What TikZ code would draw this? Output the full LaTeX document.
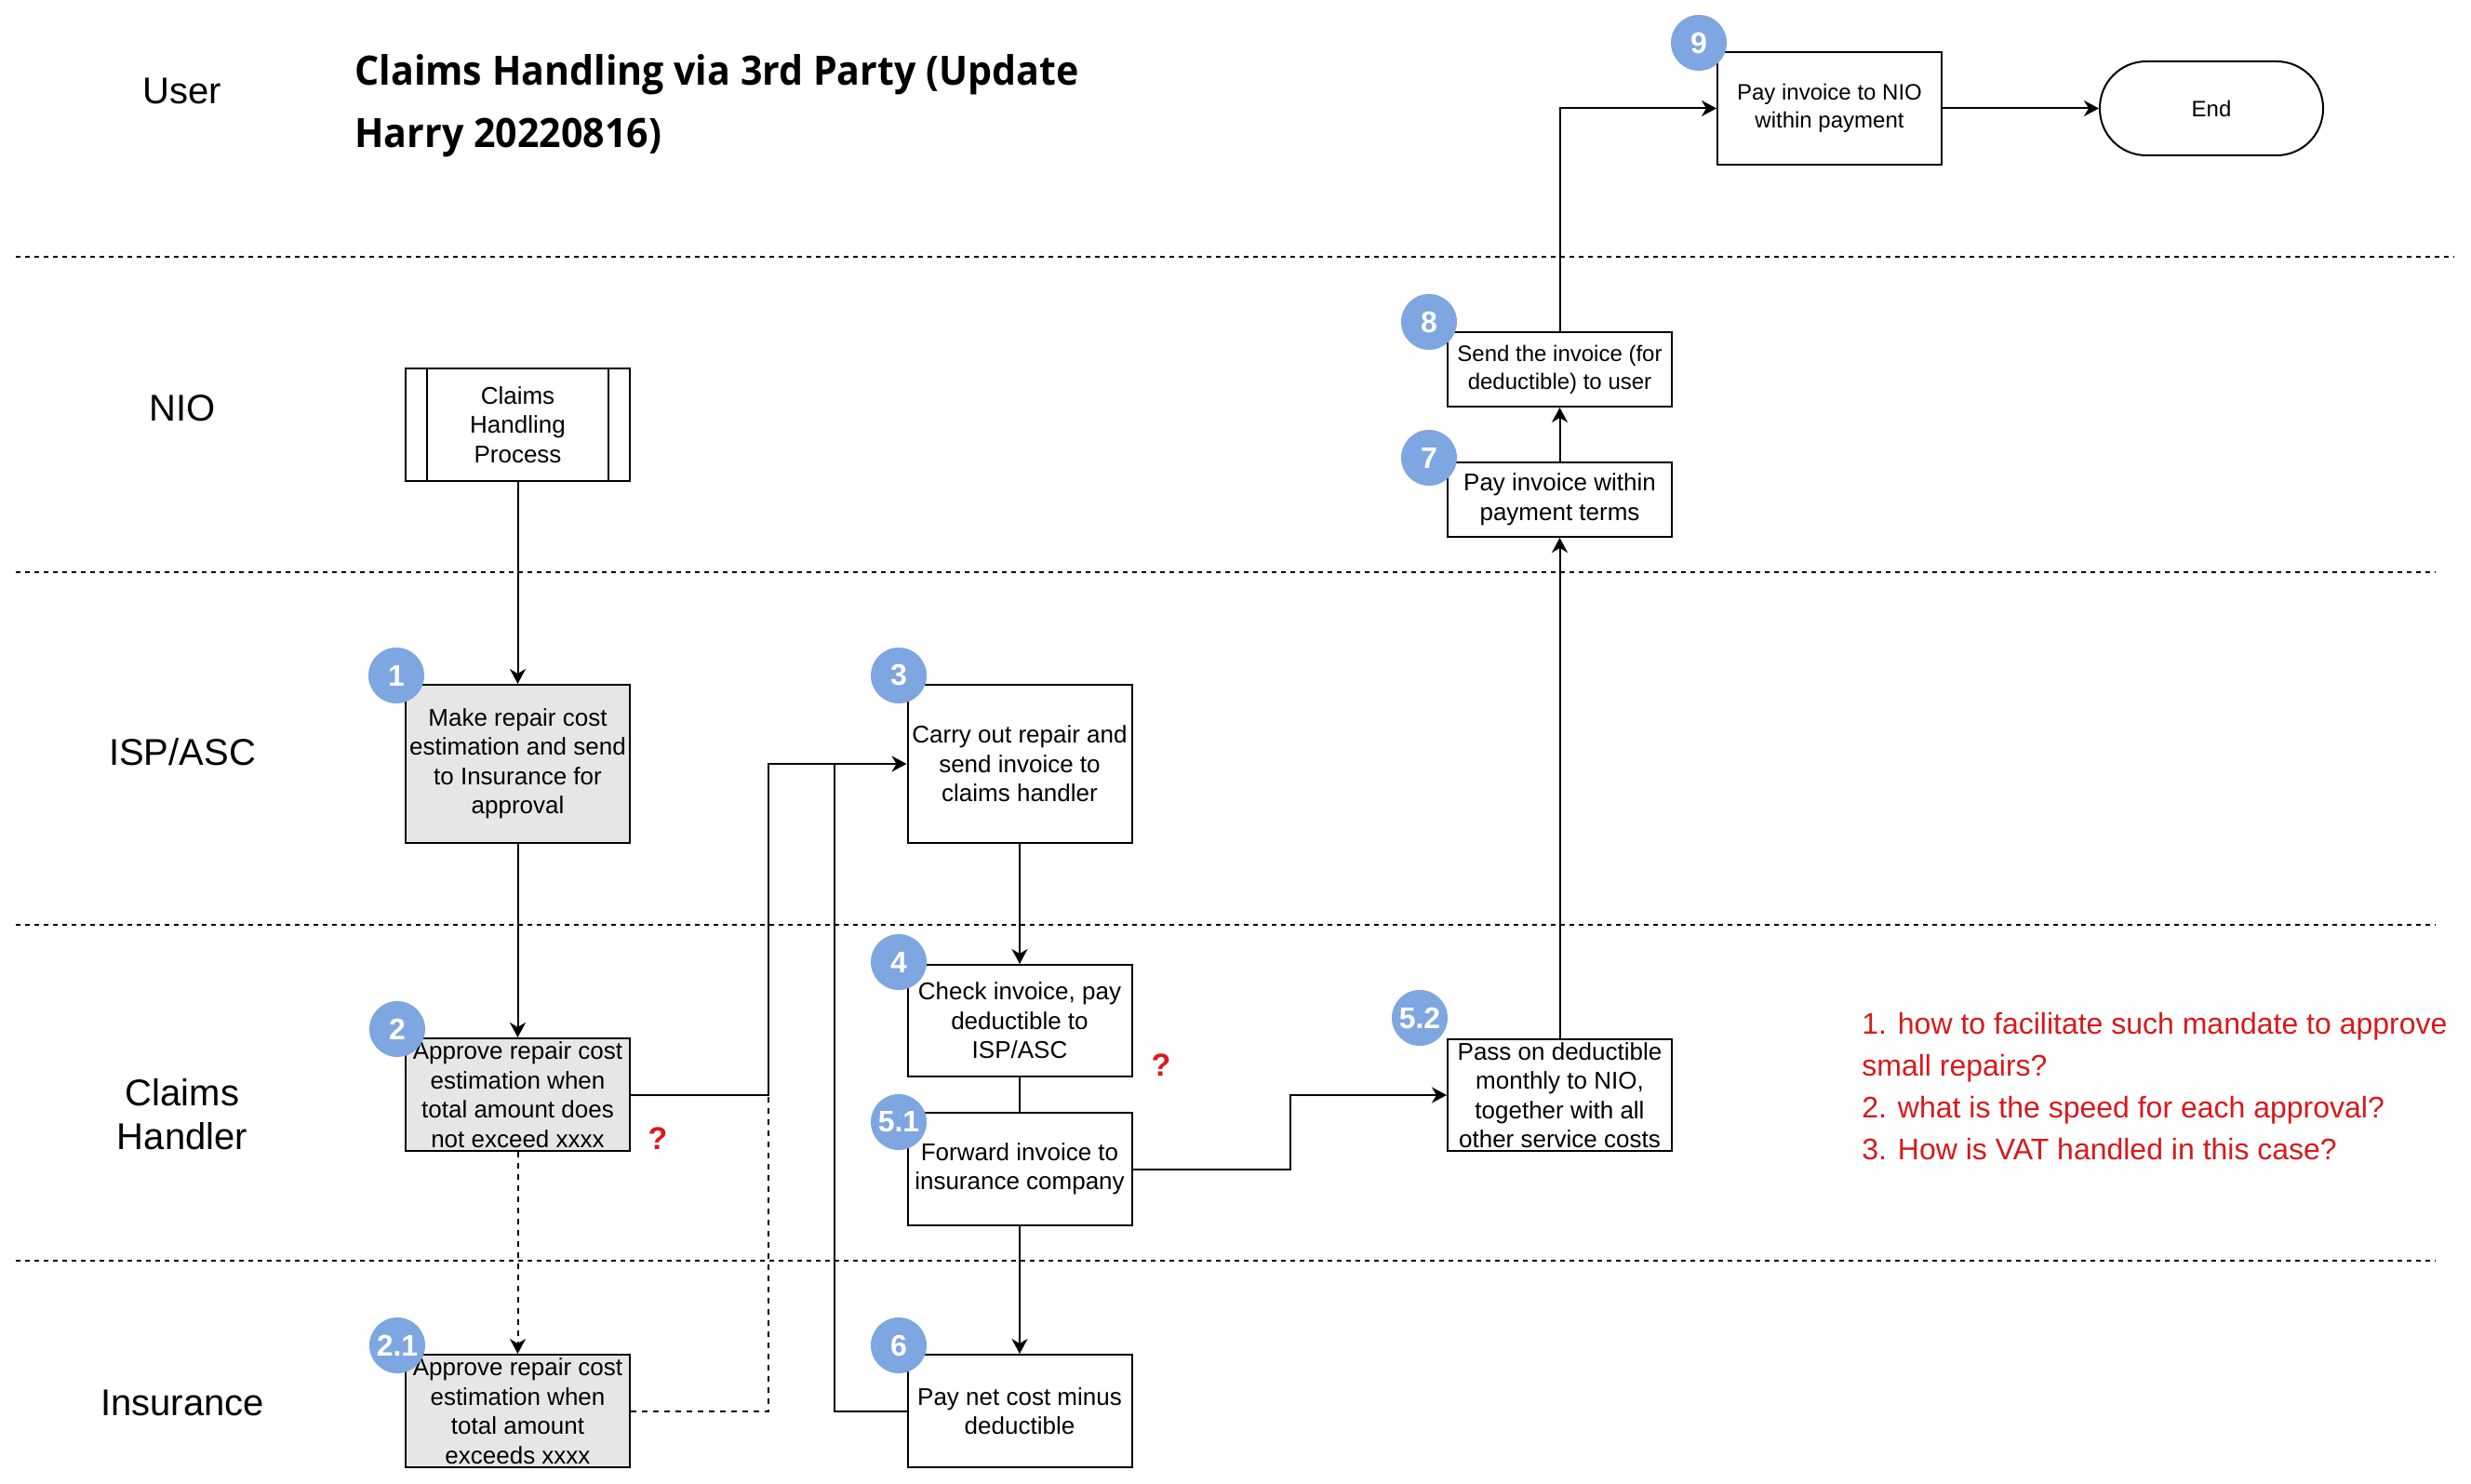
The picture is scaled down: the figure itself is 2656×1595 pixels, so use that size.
\documentclass[tikz,border=0pt]{standalone}
\usepackage{fontspec}
\setmainfont{Liberation Sans}
\newfontfamily\titlefont[FakeStretch=0.948]{Open Sans}
\usetikzlibrary{arrows.meta}
\definecolor{badgeblue}{HTML}{7EA6E0}
\definecolor{boxgray}{HTML}{E6E6E6}
\definecolor{notered}{HTML}{D7191C}
\tikzset{>={Stealth[length=8pt,width=8.5pt,inset=2.5pt]}}
\tikzset{
  lane/.style={dash pattern=on 2.5pt off 2.5pt, line width=0.8pt},
  stepbox/.style={draw, line width=1pt, minimum width=120.5pt, align=center, inner sep=1pt,
    font=\fontsize{13}{15.75}\selectfont},
  smallbox/.style={stepbox, font=\fontsize{12}{15}\selectfont},
  graybox/.style={stepbox, fill=boxgray},
  badge/.style={circle, fill=badgeblue, minimum size=30pt, inner sep=0pt, text=white,
    font=\fontsize{16}{16}\selectfont\bfseries},
  lanelabel/.style={align=center, font=\fontsize{20}{23.5}\selectfont},
  flow/.style={line width=1pt, ->},
  optflow/.style={line width=1pt, dash pattern=on 3pt off 3pt},
  qmark/.style={text=notered, font=\fontsize{17}{17}\selectfont\bfseries}
}

\begin{document}
\begin{tikzpicture}[x=0.5pt, y=-0.5pt]
    \useasboundingbox[fill=white](0, 0)rectangle(2656, 1595);
    % swimlanes
    \draw[lane](17, 276)--(2638, 276);
    \draw[lane](17, 615)--(2618, 615);
    \draw[lane](17, 994)--(2618, 994);
    \draw[lane](17, 1355)--(2618, 1355);
    \node[lanelabel] (lUser) at (196, 98) {User};
    \node[lanelabel] (lNio) at (196, 439) {NIO};
    \node[lanelabel] (lIsp) at (196, 808) {ISP/ASC};
    \node[lanelabel] (lHandler) at (196, 1198) {Claims\\Handler};
    \node[lanelabel] (lIns) at (196, 1508) {Insurance};
    \node[anchor=north west, inner sep=0pt, align=left,
      font=\fontsize{21.7}{33.5}\selectfont\titlefont\bfseries] (title) at (381, 58)
      {Claims Handling via 3rd Party (Update\\Harry 20220816)};

    % steps
    \node[stepbox, minimum height=60.5pt] (proc) at (556.5, 456.5) {Claims\\Handling\\Process};
    \draw[line width=1pt]([xshift=12pt]proc.north west)--([xshift=12pt]proc.south west);
    \draw[line width=1pt]([xshift=-12pt]proc.north east)--([xshift=-12pt]proc.south east);
    \node[graybox, minimum height=85pt] (b1) at (556.5, 821) {Make repair cost\\estimation and send\\to Insurance for\\approval};
    \node[graybox, minimum height=60.5pt] (b2) at (556.5, 1176.5) {Approve repair cost\\estimation when\\total amount does\\not exceed xxxx};
    \node[graybox, minimum height=60.5pt] (b21) at (556.5, 1516.5) {Approve repair cost\\estimation when\\total amount\\exceeds xxxx};
    \node[stepbox, minimum height=85pt] (b3) at (1096, 821) {Carry out repair and\\send invoice to\\claims handler};
    \node[stepbox, minimum height=60pt] (b4) at (1096, 1097) {Check invoice, pay\\deductible to\\ISP/ASC};
    \node[stepbox, minimum height=60.5pt] (b51) at (1096, 1256.5) {Forward invoice to\\insurance company};
    \node[stepbox, minimum height=60.5pt] (b6) at (1096, 1516.5) {Pay net cost minus\\deductible};
    \node[stepbox, minimum height=60pt] (b52) at (1676.5, 1177) {Pass on deductible\\monthly to NIO,\\together with all\\other service costs};
    \node[stepbox, minimum height=40pt] (b7) at (1676.5, 537) {Pay invoice within\\payment terms};
    \node[smallbox, minimum height=40pt] (b8) at (1676.5, 397) {Send the invoice (for\\deductible) to user};
    \node[smallbox, minimum height=60.5pt] (b9) at (1966.5, 116.5) {Pay invoice to NIO\\within payment};
    \node[smallbox, minimum width=120pt, minimum height=50.5pt, rounded corners=25pt] (end) at (2377, 116.5) {End};

    % connectors
    \coordinate (j1) at (826, 821);
    \coordinate (j2) at (826, 1176.5);
    \coordinate (j3) at (897, 821);
    \coordinate (j4) at (1387, 1177);
    \draw[flow](proc)--(b1);
    \draw[flow](b1)--(b2);
    \draw[optflow, ->](b2)--(b21);
    \draw[flow](b2.east)-|(j1)--(b3.west);
    \draw[optflow](b21.east)-|(j2);
    \draw[line width=1pt](b6.west)-|(j3);
    \draw[flow](b3)--(b4);
    \draw[line width=1pt](b4)--(b51);
    \draw[flow](b51)--(b6);
    \draw[flow](b51.east)-|(j4)--(b52.west);
    \draw[flow](b52)--(b7);
    \draw[flow](b7)--(b8);
    \draw[flow](b8.north)|-(b9.west);
    \draw[flow](b9)--(end);

    % step numbers
    \node[badge] (n1) at (426, 726) {1};
    \node[badge] (n2) at (427, 1106) {2};
    \node[badge] (n21) at (427, 1446) {2.1};
    \node[badge] (n3) at (966, 726) {3};
    \node[badge] (n4) at (966, 1034) {4};
    \node[badge] (n51) at (966, 1206) {5.1};
    \node[badge] (n6) at (966, 1446) {6};
    \node[badge] (n52) at (1526, 1094) {5.2};
    \node[badge] (n7) at (1536, 492) {7};
    \node[badge] (n8) at (1536, 346) {8};
    \node[badge] (n9) at (1826, 46) {9};

    % open questions
    \node[qmark] (q1) at (707, 1224) {?};
    \node[qmark] (q2) at (1248, 1145) {?};
    \node[anchor=north west, inner sep=0pt, align=left, text=notered,
      font=\fontsize{16}{22.5}\selectfont] (notes) at (2001, 1088)
      {1. how to facilitate such mandate to approve\\small repairs?\\2. what is the speed for each approval?\\3. How is VAT handled in this case?};
\end{tikzpicture}
\end{document}
